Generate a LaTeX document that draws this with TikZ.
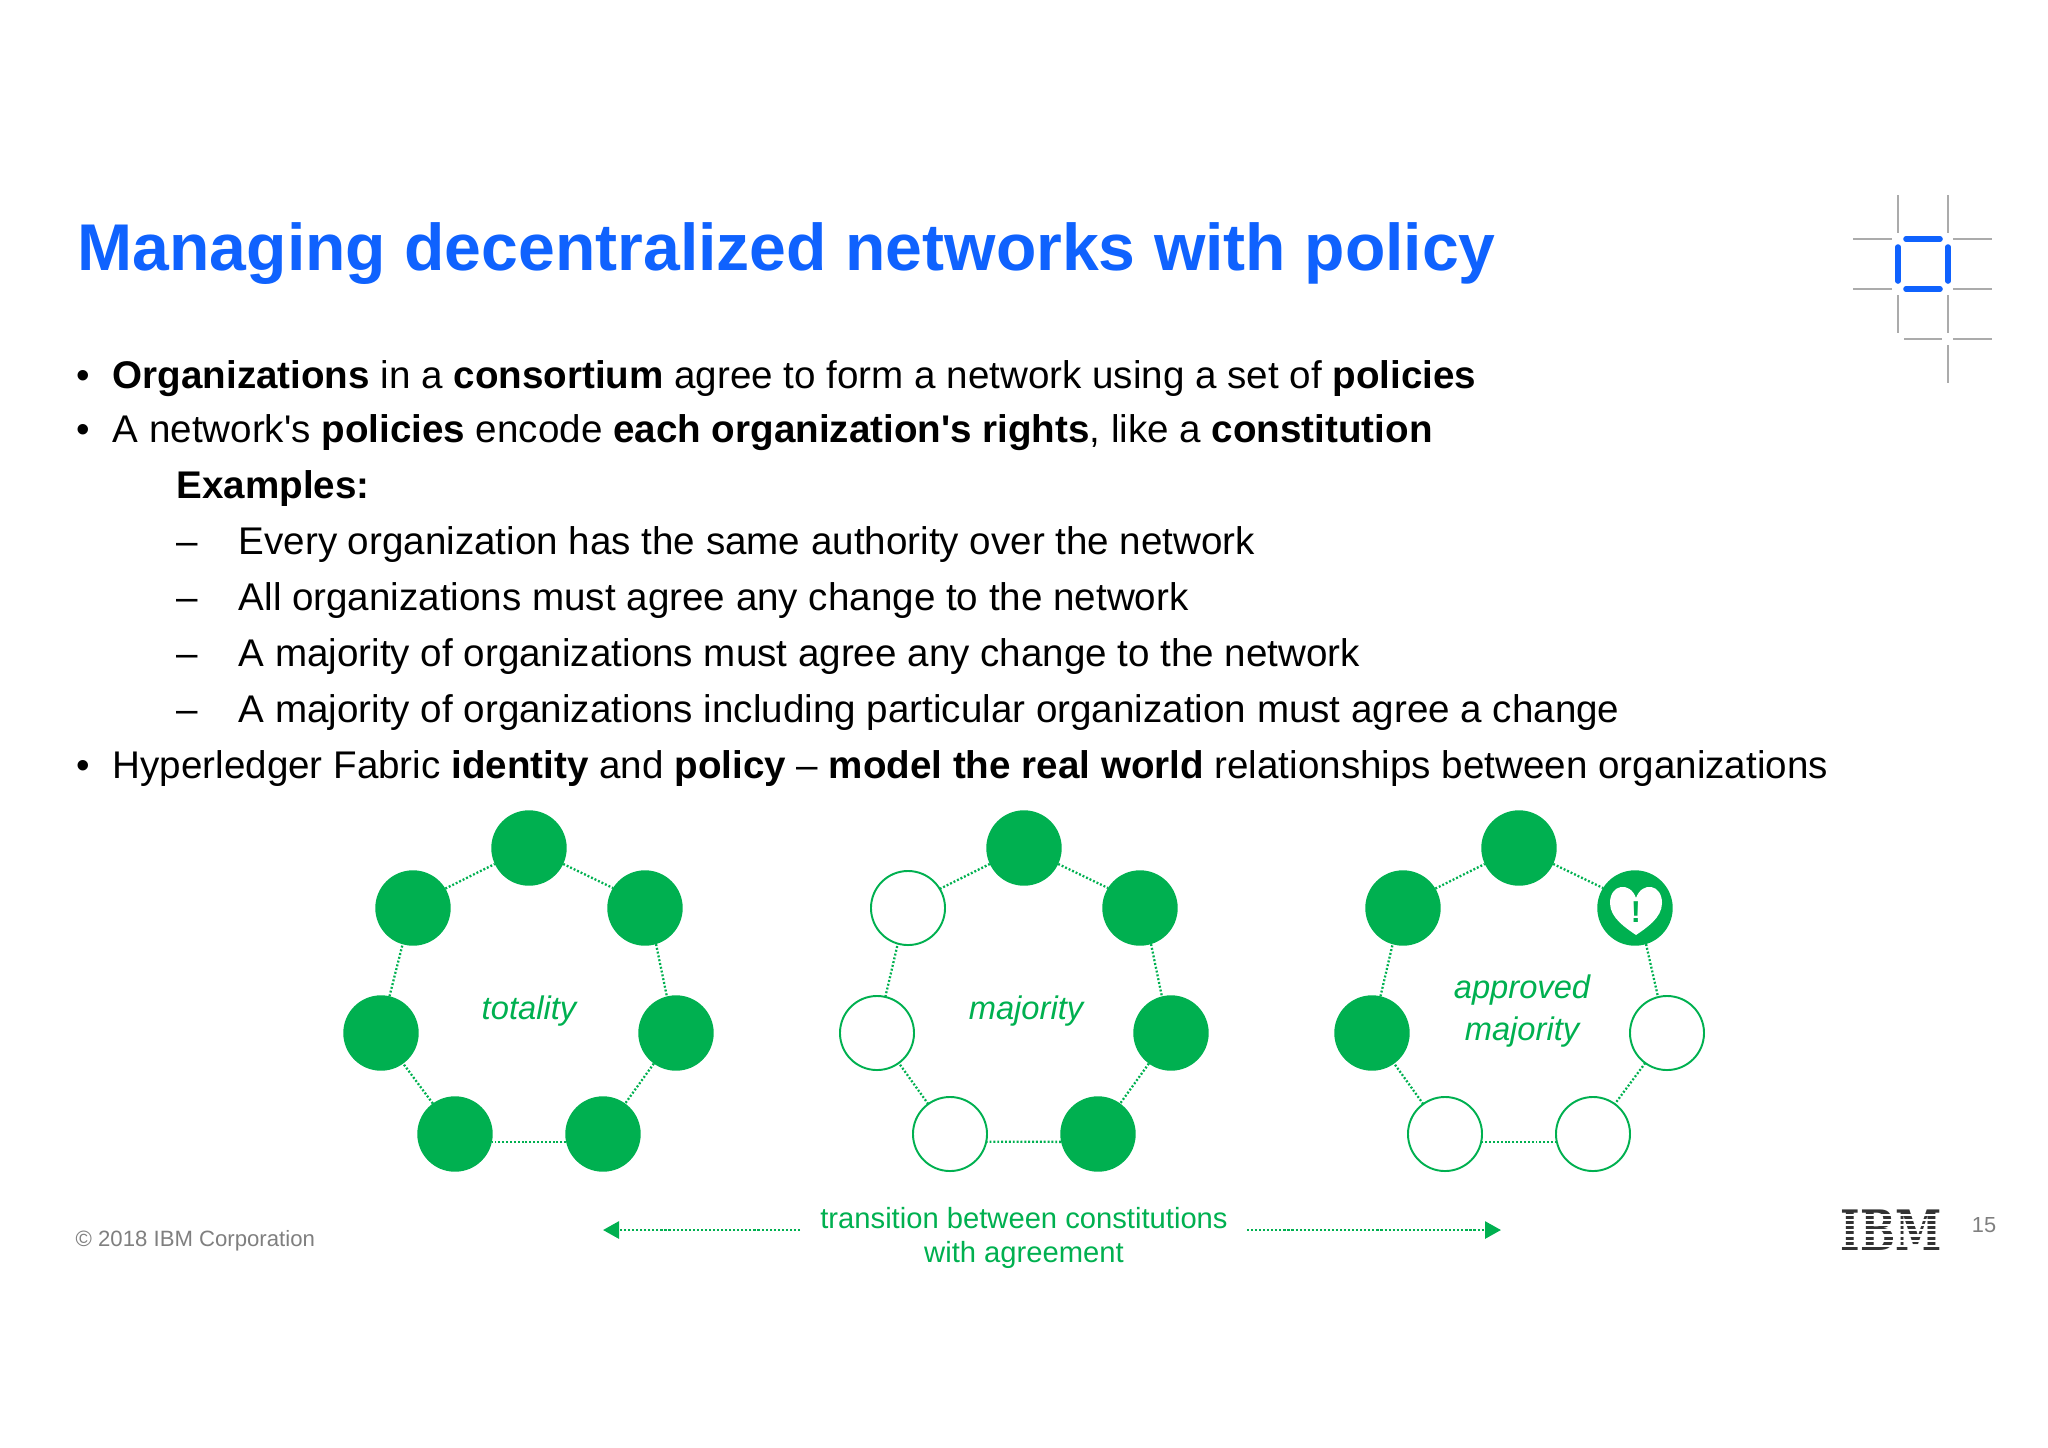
\documentclass[tikz,border=0pt]{standalone}
\usepackage{fontspec}
\setmainfont{Liberation Sans}
\usetikzlibrary{arrows.meta}
\definecolor{ibmblue}{HTML}{0F62FE}
\definecolor{orggreen}{HTML}{00B050}
\definecolor{footgray}{HTML}{7F7F7F}
\definecolor{gridgray}{HTML}{ABABAB}
\tikzset{
	org/.style={circle,minimum size=0.754cm,inner sep=0pt,outer sep=0pt},
	orgfull/.style={org,fill=orggreen},
	orgopen/.style={org,minimum size=0.74cm,draw=orggreen,line width=0.55pt,fill=white},
	orglink/.style={draw=orggreen,line width=0.65pt,dash pattern=on 0.55pt off 0.55pt},
	translink/.style={draw=orggreen,line width=0.8pt,dash pattern=on 0.6pt off 0.55pt},
	ringlabel/.style={text=orggreen,font=\fontsize{9.3}{12.2}\selectfont\itshape,align=center},
	bodyline/.style={anchor=base west,inner sep=0pt,font=\fontsize{10.97}{13}\selectfont},
	gridline/.style={draw=gridgray,line width=0.65pt},
	gridblue/.style={draw=ibmblue,line width=1.6pt,line cap=round},
}
\begin{document}
\begin{tikzpicture}[x=0.01cm,y=-0.01cm]
	\useasboundingbox (0,0) rectangle (2048,1447);
	\node[anchor=base west,inner sep=0pt,text=ibmblue,font=\fontsize{18.8}{22}\selectfont\bfseries] (title) at (77,270) {Managing decentralized networks with policy};

	\node[bodyline] (bulleta) at (76,388) {•};
	\node[bodyline] (linea) at (112,388) {\textbf{Organizations} in a \textbf{consortium} agree to form a network using a set of \textbf{policies}};
	\node[bodyline] (bulletb) at (76,442) {•};
	\node[bodyline] (lineb) at (112,442) {A network\textquotesingle s \textbf{policies} encode \textbf{each organization\textquotesingle s rights}, like a \textbf{constitution}};
	\node[bodyline] (examples) at (176,498) {\textbf{Examples:}};
	\node[bodyline] (dasha) at (176,554) {–};
	\node[bodyline] (linec) at (238,554) {Every organization has the same authority over the network};
	\node[bodyline] (dashb) at (176,610) {–};
	\node[bodyline] (lined) at (238,610) {All organizations must agree any change to the network};
	\node[bodyline] (dashc) at (176,666) {–};
	\node[bodyline] (linee) at (238,666) {A majority of organizations must agree any change to the network};
	\node[bodyline] (dashd) at (176,722) {–};
	\node[bodyline] (linef) at (238,722) {A majority of organizations including particular organization must agree a change};
	\node[bodyline] (bulletc) at (76,778) {•};
	\node[bodyline] (lineg) at (112,778) {Hyperledger Fabric \textbf{identity} and \textbf{policy} – \textbf{model the real world} relationships between organizations};

	\begin{scope}[shift={(529,848)}]
		\node[orgfull] (atop) at (0,0) {};
		\node[orgfull] (aright) at (116,60) {};
		\node[orgfull] (afar) at (147,185) {};
		\node[orgfull] (abr) at (74,286) {};
		\node[orgfull] (abl) at (-74,286) {};
		\node[orgfull] (aleft) at (-148,185) {};
		\node[orgfull] (aup) at (-116,60) {};
		\node[ringlabel] (alabel) at (0,163) {totality};
	\end{scope}
	\begin{scope}[shift={(1024,848)}]
		\node[orgfull] (btop) at (0,0) {};
		\node[orgfull] (bright) at (116,60) {};
		\node[orgfull] (bfar) at (147,185) {};
		\node[orgfull] (bbr) at (74,286) {};
		\node[orgopen] (bbl) at (-74,286) {};
		\node[orgopen] (bleft) at (-147,185) {};
		\node[orgopen] (bup) at (-116,60) {};
		\node[ringlabel] (blabel) at (2,163) {majority};
	\end{scope}
	\begin{scope}[shift={(1519,848)}]
		\node[orgfull] (ctop) at (0,0) {};
		\node[orgfull] (cright) at (116,60) {};
		\node[orgopen] (cfar) at (148,185) {};
		\node[orgopen] (cbr) at (74,286) {};
		\node[orgopen] (cbl) at (-74,286) {};
		\node[orgfull] (cleft) at (-147,185) {};
		\node[orgfull] (cup) at (-116,60) {};
		\node[ringlabel] (clabel) at (3,163) {approved\\majority};
	\end{scope}
	\foreach \ring in {a,b,c}
		\foreach \from/\fromangle/\to/\toangle in {top/-25/right/148,right/-73/far/104,far/-126/br/54,br/192/bl/-12,bl/126/left/-54,left/77/up/-106,up/31/top/205}
			\draw[orglink] (\ring\from.\fromangle) -- (\ring\to.\toangle);

	\fill[white] (1636,898) .. controls (1642,881) and (1662,884) .. (1662,903) .. controls (1662,918) and (1646,928) .. (1636,935) .. controls (1626,928) and (1610,918) .. (1610,903) .. controls (1610,884) and (1630,881) .. (1636,898) -- cycle;
	\node[text=orggreen,inner sep=0pt,font=\fontsize{8.6}{9}\selectfont\bfseries] (alert) at (1636,912) {!};

	\node[text=orggreen,align=center,inner sep=0pt,font=\fontsize{8.3}{9.7}\selectfont] (transition) at (1024,1238) {transition between constitutions\\with agreement};
	\coordinate (leftstart) at (800,1230);
	\coordinate (lefttip) at (603,1230);
	\coordinate (rightstart) at (1247,1230);
	\coordinate (righttip) at (1501,1230);
	\draw[translink,-{Triangle[length=0.16cm,width=0.17cm,fill=orggreen]}] (leftstart) -- (lefttip);
	\draw[translink,-{Triangle[length=0.16cm,width=0.17cm,fill=orggreen]}] (rightstart) -- (righttip);

	\node[anchor=base west,inner sep=0pt,text=footgray,font=\fontsize{6.3}{8}\selectfont] (copyright) at (75,1246) {© 2018 IBM Corporation};
	\node[text=footgray,inner sep=0pt,font=\fontsize{6.2}{8}\selectfont] (pagenum) at (1984,1225) {15};

	\node[inner sep=0pt,text=black!80,xscale=0.9,yscale=1.2,font=\fontsize{13.2}{14}\selectfont\fontspec{DejaVu Serif}\bfseries] (ibmlogo) at (1891,1230) {IBM};
	\foreach \stripe in {1,...,7}
		\draw[white,line width=0.6pt] (1835,1209.5+5.2*\stripe) -- (1948,1209.5+5.2*\stripe);

	\draw[gridline] (1898,195) -- (1898,233);
	\draw[gridline] (1948,195) -- (1948,233);
	\draw[gridline] (1853,239) -- (1892,239);
	\draw[gridline] (1953,239) -- (1992,239);
	\draw[gridline] (1853,289) -- (1892,289);
	\draw[gridline] (1953,289) -- (1992,289);
	\draw[gridline] (1898,295) -- (1898,333);
	\draw[gridline] (1948,295) -- (1948,333);
	\draw[gridline] (1904,339) -- (1942,339);
	\draw[gridline] (1953,339) -- (1992,339);
	\draw[gridline] (1948,345) -- (1948,383);
	\draw[gridblue] (1906,239) -- (1940,239);
	\draw[gridblue] (1906,289) -- (1940,289);
	\draw[gridblue] (1898,247) -- (1898,281);
	\draw[gridblue] (1948,247) -- (1948,281);
\end{tikzpicture}
\end{document}
